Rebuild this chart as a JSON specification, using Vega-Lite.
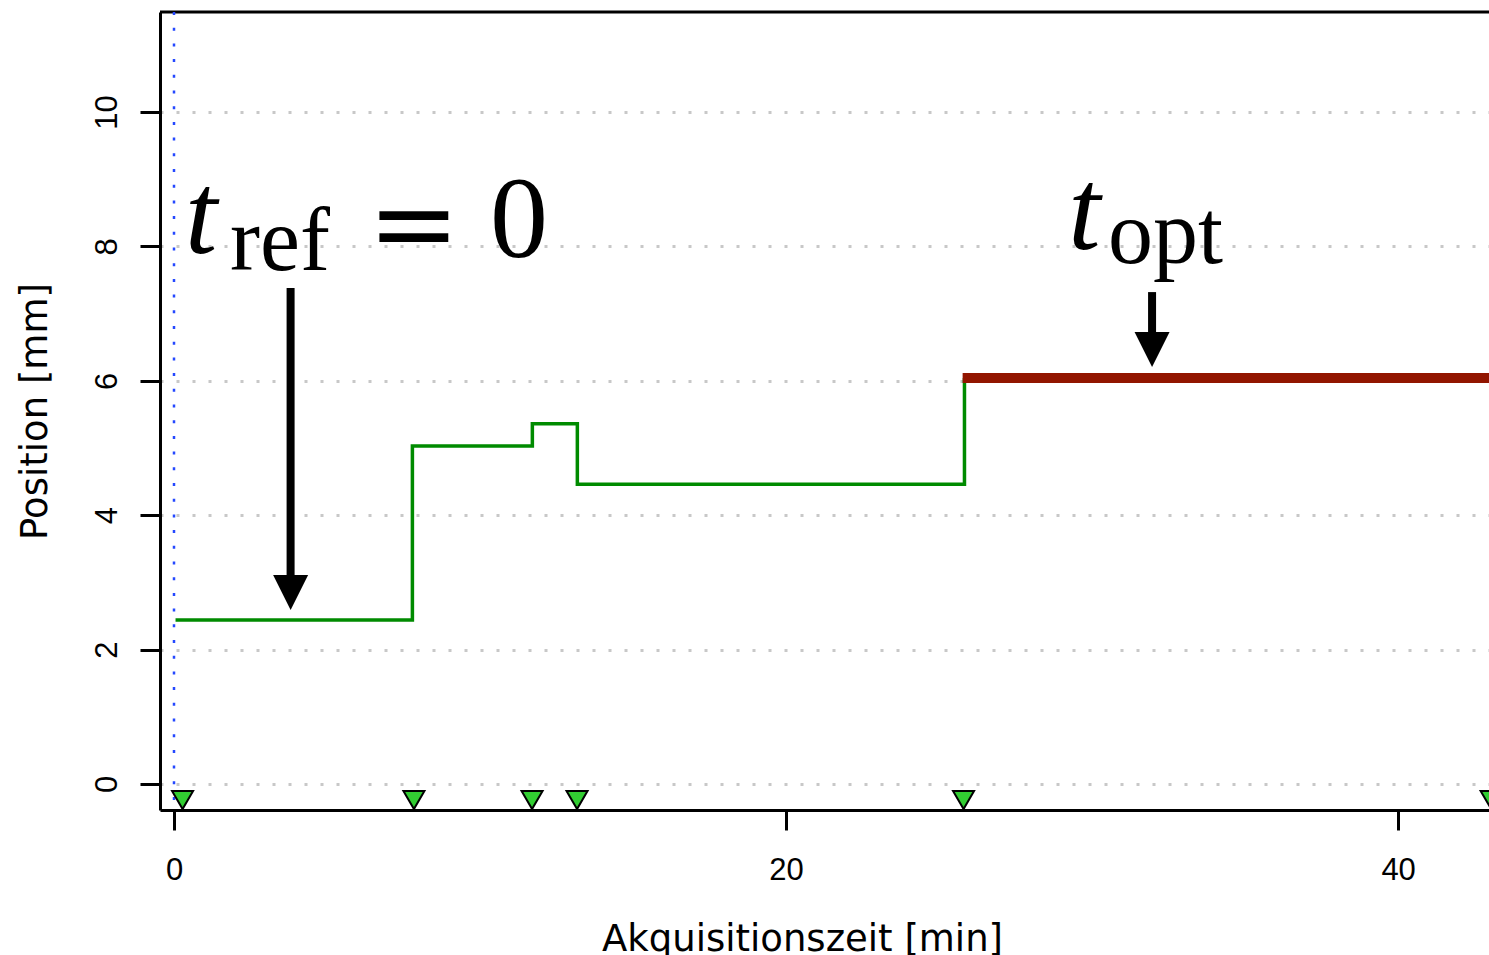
{
  "$schema": "https://vega.github.io/schema/vega-lite/v6.json",
  "autosize": {"type": "none"},
  "padding": {"left": 160, "top": 12, "right": 0, "bottom": 145},
  "width": 1329,
  "height": 798,
  "background": "white",
  "config": {
    "view": {"stroke": null},
    "axis": {"labelColor": "black", "titleColor": "black", "domainColor": "black", "tickColor": "black", "titleFontWeight": "normal"}
  },
  "datasets": {
    "steps": [
      {"t": 0.05, "pos": 2.44},
      {"t": 7.79, "pos": 5.03},
      {"t": 11.71, "pos": 5.36},
      {"t": 13.18, "pos": 4.46},
      {"t": 25.83, "pos": 6.04}
    ],
    "opt": [{"t": 25.77, "t2": 43.2, "pos": 6.04}],
    "markers": [
      {"t": 0.28, "pos": -0.238},
      {"t": 7.84, "pos": -0.238},
      {"t": 11.7, "pos": -0.238},
      {"t": 13.17, "pos": -0.238},
      {"t": 25.8, "pos": -0.238},
      {"t": 43.04, "pos": -0.238}
    ],
    "ref": [{"t": 0}],
    "arrows": [
      {"t": 3.81, "top": 7.38, "bottom": 3.04, "head": 2.85},
      {"t": 31.96, "top": 7.32, "bottom": 6.68, "head": 6.466}
    ],
    "tmain": [
      {"label": "t", "t": 0.36, "pos": 7.9},
      {"label": "t", "t": 29.22, "pos": 7.96}
    ],
    "tsub": [
      {"label": "ref", "t": 1.83, "pos": 7.649},
      {"label": "opt", "t": 30.52, "pos": 7.753}
    ],
    "eqsign": [{"label": "=", "t": 7.84, "pos": 7.78}],
    "zero": [{"label": "0", "t": 11.27, "pos": 7.84}],
    "frame": [{"pos": 11.488}]
  },
  "encoding": {
    "x": {
      "field": "t", "type": "quantitative",
      "scale": {"domain": [-0.4575, 42.97], "nice": false, "zero": false},
      "axis": {
        "values": [0, 20, 40],
        "title": "Akquisitionszeit [min]",
        "titleFont": "DejaVu Sans", "titleFontSize": 37,
        "titleX": 642, "titleY": 140, "titleAlign": "center", "titleBaseline": "alphabetic",
        "labelFont": "Liberation Sans", "labelFontSize": 31, "labelPadding": 25,
        "labelBaseline": "top", "labelFlush": false,
        "tickSize": 20, "tickWidth": 3, "domainWidth": 3, "grid": false
      }
    },
    "y": {
      "field": "pos", "type": "quantitative",
      "scale": {"domain": [-0.387, 11.488], "nice": false, "zero": false},
      "axis": {
        "values": [0, 2, 4, 6, 8, 10],
        "title": "Position [mm]",
        "titleFont": "DejaVu Sans", "titleFontSize": 37,
        "titleAngle": -90, "titleX": -114, "titleY": 399, "titleAlign": "center", "titleBaseline": "alphabetic",
        "labelFont": "Liberation Sans", "labelFontSize": 31, "labelAngle": -90,
        "labelAlign": "center", "labelBaseline": "alphabetic", "labelPadding": 24, "labelFlush": false,
        "tickSize": 20, "tickWidth": 3, "domainWidth": 3,
        "grid": true, "gridColor": "#c8c8c8", "gridDash": [3, 13], "gridWidth": 3
      }
    }
  },
  "layer": [
    {
      "data": {"name": "frame"},
      "mark": {"type": "rule", "color": "black", "strokeWidth": 3},
      "encoding": {"x": null}
    },
    {
      "data": {"name": "ref"},
      "mark": {"type": "rule", "color": "#2448ff", "strokeWidth": 2.5, "strokeDash": [3, 12.7]},
      "encoding": {"y": null}
    },
    {
      "data": {"name": "steps"},
      "mark": {"type": "line", "interpolate": "step-after", "color": "#008b00", "strokeWidth": 3.5, "clip": true}
    },
    {
      "data": {"name": "opt"},
      "mark": {"type": "rule", "color": "#921500", "strokeWidth": 10, "strokeCap": "butt", "clip": true},
      "encoding": {"x2": {"field": "t2"}}
    },
    {
      "data": {"name": "arrows"},
      "mark": {"type": "rule", "color": "black", "strokeWidth": 8, "strokeCap": "butt"},
      "encoding": {"y": {"field": "top", "type": "quantitative"}, "y2": {"field": "bottom"}}
    },
    {
      "data": {"name": "arrows"},
      "mark": {"type": "point", "shape": "M-1,-1L1,-1L0,1Z", "size": 1225, "filled": true, "color": "black", "opacity": 1},
      "encoding": {"y": {"field": "head", "type": "quantitative"}}
    },
    {
      "data": {"name": "markers"},
      "mark": {"type": "point", "shape": "triangle-down", "size": 441, "filled": true, "fill": "#32cd32", "stroke": "black", "strokeWidth": 2, "opacity": 1, "clip": true}
    },
    {
      "data": {"name": "tmain"},
      "mark": {"type": "text", "font": "Liberation Serif", "fontStyle": "italic", "fontSize": 116, "align": "left", "baseline": "alphabetic", "color": "black"},
      "encoding": {"text": {"field": "label"}}
    },
    {
      "data": {"name": "tsub"},
      "mark": {"type": "text", "font": "Liberation Serif", "fontSize": 90, "align": "left", "baseline": "alphabetic", "color": "black"},
      "encoding": {"text": {"field": "label"}}
    },
    {
      "data": {"name": "eqsign"},
      "mark": {"type": "text", "font": "DejaVu Serif", "fontSize": 110, "align": "center", "baseline": "alphabetic", "color": "black"},
      "encoding": {"text": {"field": "label"}}
    },
    {
      "data": {"name": "zero"},
      "mark": {"type": "text", "font": "Liberation Serif", "fontSize": 116, "align": "center", "baseline": "alphabetic", "color": "black"},
      "encoding": {"text": {"field": "label"}}
    }
  ]
}
